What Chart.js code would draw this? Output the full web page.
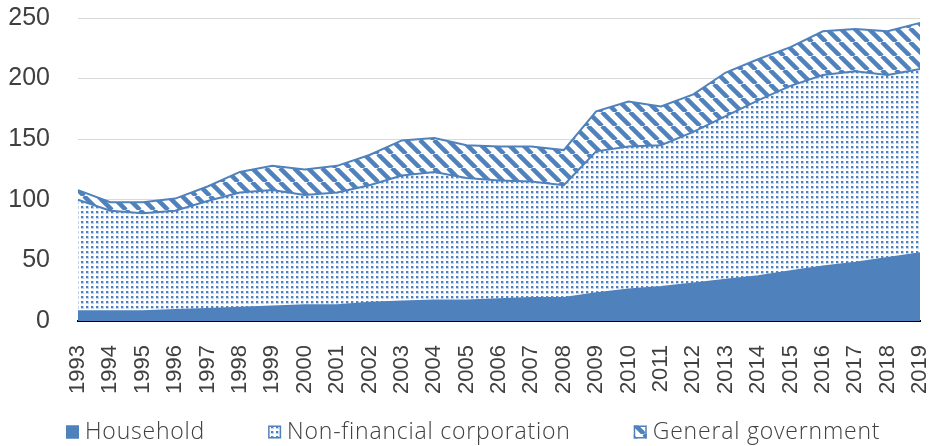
<!DOCTYPE html>
<html lang="en">
<head>
    <meta charset="UTF-8">
    <title>Debt by sector</title>
    <script src="https://cdn.jsdelivr.net/npm/chart.js"></script>
    <style>
        html, body { margin: 0; padding: 0; background: #fff; }
        #wrap { width: 933px; height: 446px; }
    </style>
</head>
<body>
    <div id="wrap"><canvas id="debtChart"></canvas></div>

    <script>
        const years = ["1993","1994","1995","1996","1997","1998","1999","2000","2001","2002","2003","2004","2005",
                       "2006","2007","2008","2009","2010","2011","2012","2013","2014","2015","2016","2017","2018","2019"];
        const household   = [8,8,8,9,10,11,12,13,13,15,16,17,17,18,19,19,23,26,28,31,34,37,41,45,48,52,56];
        const corporation = [92,83,81,82,89,95,96,91,93,97,104,106,101,98,96,93,117,118,117,125,135,145,153,158,158,151,152];
        const government  = [8,7,9,10,12,17,20,21,22,25,29,28,27,28,29,29,33,37,32,31,36,34,32,36,35,36,38];
        const yTicks = [0, 50, 100, 150, 200, 250];

        const blue = "#4f81bd";

        // dotted fill like the office "small grid" pattern
        function dotPattern() {
            const c = document.createElement("canvas");
            c.width = 5; c.height = 5;
            const g = c.getContext("2d");
            g.fillStyle = "#fff";
            g.fillRect(0, 0, 5, 5);
            g.fillStyle = "#c3d4ea";
            g.fillRect(1, 1, 3, 3);
            g.fillStyle = blue;
            g.fillRect(1, 1, 2, 2);
            return g.createPattern(c, "repeat");
        }

        // wide downward diagonal stripes
        function stripePattern() {
            const s = 14;
            const c = document.createElement("canvas");
            c.width = s; c.height = s;
            const g = c.getContext("2d");
            g.fillStyle = "#fff";
            g.fillRect(0, 0, s, s);
            g.strokeStyle = blue;
            g.lineWidth = 4.5;
            for (const off of [-s, 0, s]) {
                g.beginPath();
                g.moveTo(off, 0);
                g.lineTo(off + s, s);
                g.stroke();
            }
            return g.createPattern(c, "repeat");
        }

        const tickFont = "'Liberation Sans', Arial, sans-serif";
        const legendFont = "300 23px 'Open Sans', Roboto, sans-serif";

        // legend row under the chart, spaced like the original
        const bottomLegend = {
            id: "bottomLegend",
            afterDraw(chart) {
                const g = chart.ctx;
                const cy = 432;
                let x = 66;
                g.save();
                g.font = legendFont;
                g.letterSpacing = "0.8px";
                g.textBaseline = "middle";
                g.textAlign = "left";
                chart.data.datasets.forEach(ds => {
                    g.fillStyle = ds.backgroundColor;
                    g.fillRect(x, cy - 6.5, 13, 13);
                    g.strokeStyle = blue;
                    g.lineWidth = 1.5;
                    g.strokeRect(x + 0.75, cy - 5.75, 11.5, 11.5);
                    g.fillStyle = "#404040";
                    g.fillText(ds.label, x + 19, cy);
                    x += 19 + g.measureText(ds.label).width + 63;
                });
                g.restore();
            }
        };

        const ctx = document.getElementById("debtChart").getContext("2d");
        new Chart(ctx, {
            type: "line",
            data: {
                labels: years,
                datasets: [
                    { label: "Household", data: household, backgroundColor: blue, borderColor: blue, fill: "origin" },
                    { label: "Non-financial corporation", data: corporation, backgroundColor: dotPattern(), borderColor: blue, fill: "-1" },
                    { label: "General government", data: government, backgroundColor: stripePattern(), borderColor: blue, fill: "-1" }
                ]
            },
            plugins: [bottomLegend],
            options: {
                responsive: true,
                maintainAspectRatio: false,
                animation: false,
                layout: { padding: { top: 18, right: 13, bottom: 34, left: 0 } },
                elements: {
                    line: { tension: 0, borderWidth: 2 },
                    point: { radius: 0 }
                },
                plugins: {
                    tooltip: { enabled: false },
                    legend: { display: false }
                },
                scales: {
                    x: {
                        offset: false,
                        grid: { display: false, drawTicks: false },
                        border: { display: true, color: "#000", width: 2 },
                        ticks: {
                            minRotation: 90,
                            maxRotation: 90,
                            autoSkip: false,
                            padding: 24,
                            color: "#404040",
                            font: { family: tickFont, size: 22 }
                        },
                        afterFit: s => {
                            s.height = 91;
                            s.paddingLeft = 0;
                            s.paddingRight = 0;
                        }
                    },
                    y: {
                        stacked: true,
                        min: 0,
                        max: 250,
                        grid: { color: "#d9d9d9", lineWidth: 1, drawTicks: false },
                        border: { display: false },
                        afterBuildTicks: s => { s.ticks = yTicks.map(v => ({ value: v })); },
                        ticks: {
                            padding: 28,
                            color: "#404040",
                            font: { family: tickFont, size: 25 }
                        },
                        afterFit: s => {
                            s.width = 78;
                            s.paddingTop = 0;
                            s.paddingBottom = 0;
                        }
                    }
                }
            }
        });
    </script>
</body>
</html>
